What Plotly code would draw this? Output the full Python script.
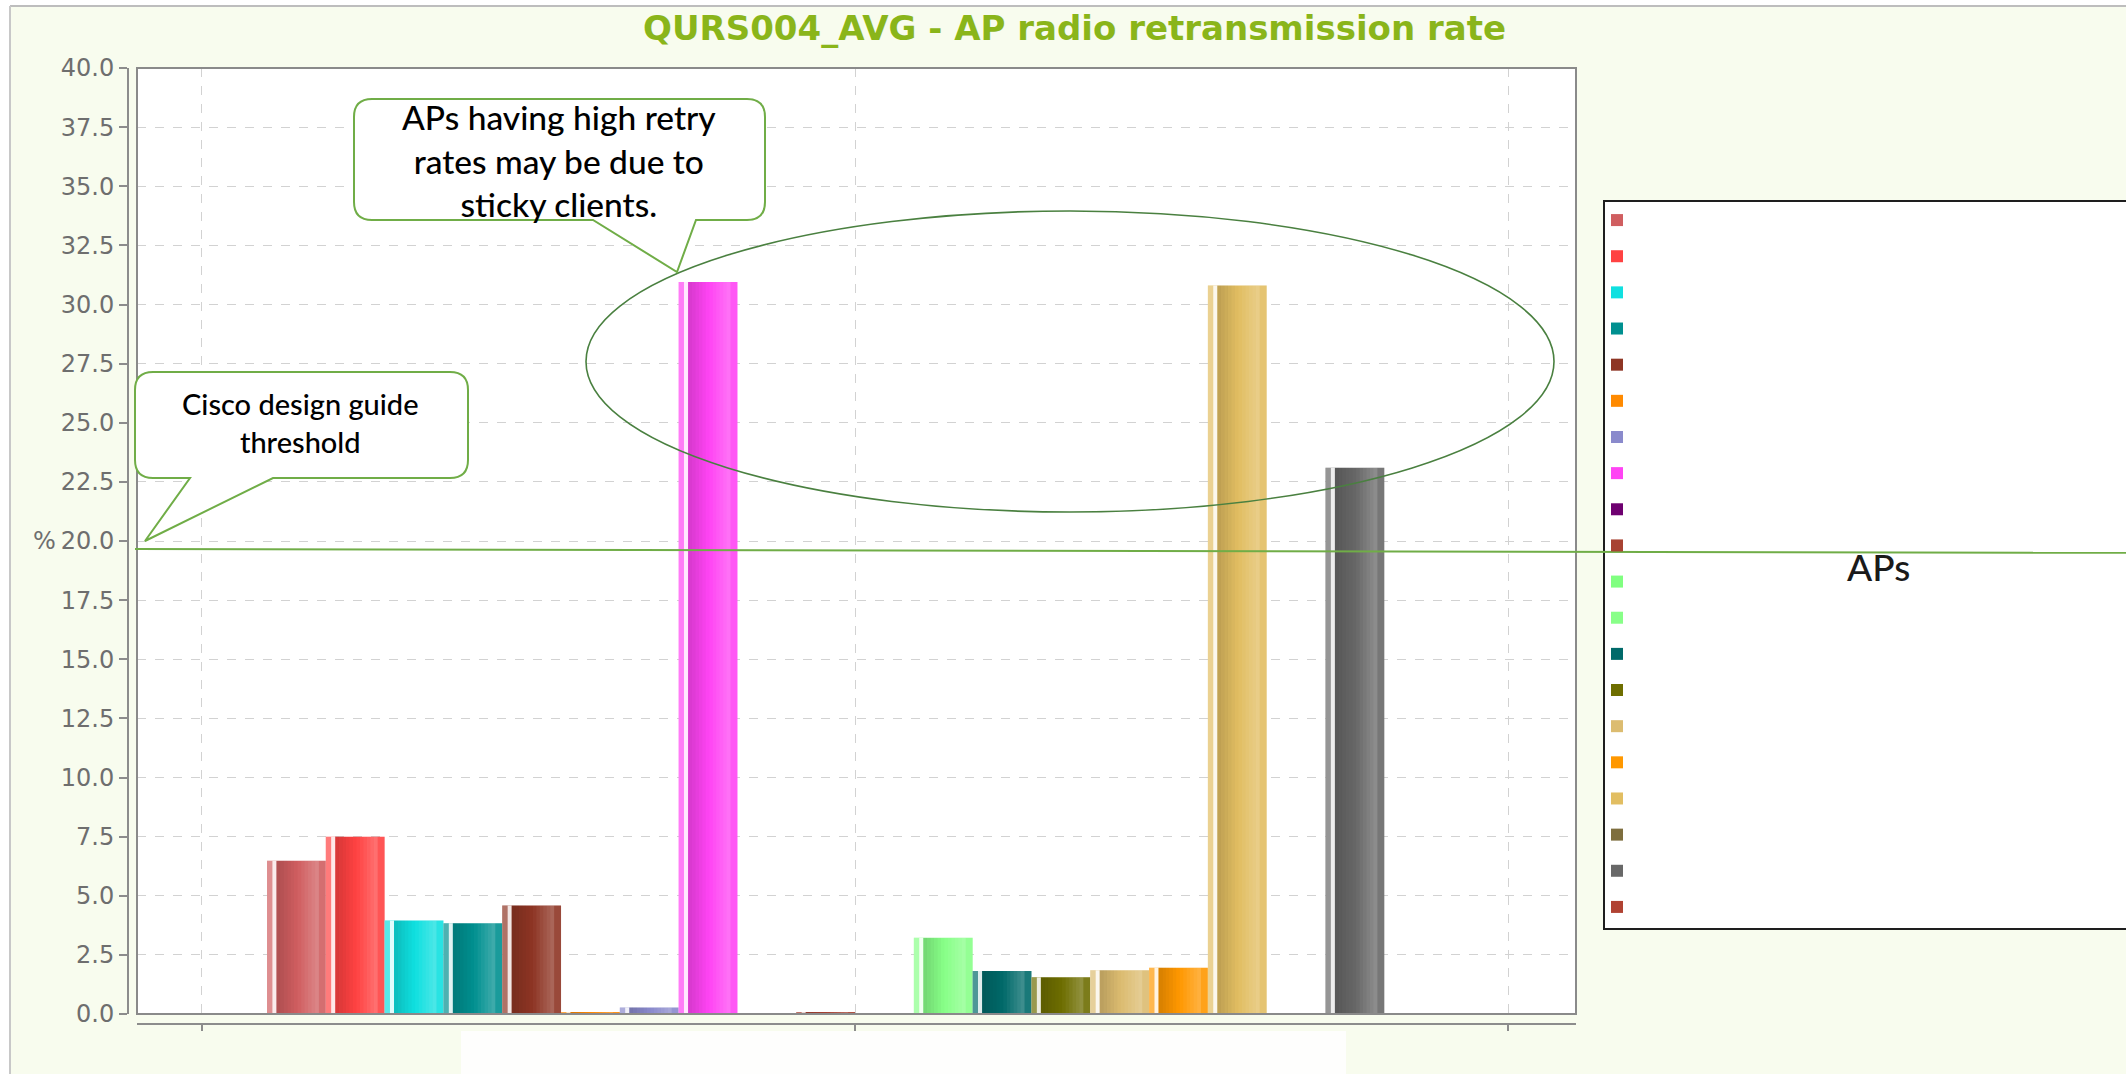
import plotly.graph_objects as go

W, H = 2126, 1074

# Average radio retransmission rate (%) per access point, in legend order
ap_colors = [
    "#d05e60", "#ff4242", "#10e0e0", "#009090", "#8e3524",
    "#ff8a00", "#8a8acc", "#ff44f4", "#6e0070", "#a84232",
    "#80ff80", "#88ff88", "#006a6a", "#6e6e00", "#dcbc70",
    "#ff9800", "#e2be62", "#7e6e3e", "#686868", "#b04232",
]
retry_pct = [
    6.48, 7.50, 3.95, 3.84, 4.59,
    0.08, 0.28, 30.95, 0.00, 0.08,
    0.00, 3.22, 1.82, 1.55, 1.85,
    1.96, 30.80, 0.00, 23.10, 0.00,
]
ap_slot = list(range(len(retry_pct)))

y_tick_vals = [0, 2.5, 5, 7.5, 10, 12.5, 15, 17.5, 20, 22.5, 25, 27.5, 30, 32.5, 35, 37.5, 40]
y_tick_text = ["0.0", "2.5", "5.0", "7.5", "10.0", "12.5", "15.0", "17.5", "20.0",
               "22.5", "25.0", "27.5", "30.0", "32.5", "35.0", "37.5", "40.0"]

CREAM = "#f8fcee"
CALLOUT = "#70ad47"


def fx(px):
    return px / W


def fy(py):
    return 1 - py / H


fig = go.Figure()

for i, (val, col) in enumerate(zip(retry_pct, ap_colors)):
    fig.add_trace(go.Bar(
        x=[ap_slot[i]], y=[val], width=[1.0],
        marker=dict(color=col, line=dict(width=0)),
        name=" ", showlegend=True,
        hovertemplate="%{y:.2f} %<extra></extra>",
    ))


def sheen(offset, width, color):
    """Overlay band across every bar to give the painted-gradient look."""
    fig.add_trace(go.Bar(
        x=ap_slot, y=retry_pct, width=width, offset=offset,
        marker=dict(color=color, line=dict(width=0)),
        showlegend=False, hoverinfo="skip",
    ))


# light sliver, white highlight line, then a dark-to-light body gradient
sheen(-0.5, 0.09, "rgba(255,255,255,0.30)")
sheen(-0.41, 0.07, "rgba(255,255,255,0.88)")
body_start, body_end, n_steps = 0.16, 0.88, 12
step = (body_end - body_start) / n_steps
for k in range(n_steps):
    t = (k + 0.5) / n_steps
    if t < 0.5:
        band = f"rgba(0,0,0,{0.16 * (1 - 2 * t):.3f})"
    else:
        band = f"rgba(255,255,255,{0.26 * (2 * t - 1):.3f})"
    sheen(-0.5 + body_start + k * step, step + 0.002, band)
sheen(-0.5 + body_end, 1 - body_end, "rgba(255,255,255,0.10)")


def rounded_callout(x0, y0, x1, y1, r, tail):
    """Rounded box with a pointer; tail = (base_right, tip_x, tip_y, base_left) on the bottom edge."""
    br, tx, ty, bl = tail
    pts = [
        f"M{fx(x0 + r)},{fy(y0)}",
        f"L{fx(x1 - r)},{fy(y0)}",
        f"Q{fx(x1)},{fy(y0)} {fx(x1)},{fy(y0 + r)}",
        f"L{fx(x1)},{fy(y1 - r)}",
        f"Q{fx(x1)},{fy(y1)} {fx(x1 - r)},{fy(y1)}",
        f"L{fx(br)},{fy(y1)}",
        f"L{fx(tx)},{fy(ty)}",
        f"L{fx(bl)},{fy(y1)}",
        f"L{fx(x0 + r)},{fy(y1)}",
        f"Q{fx(x0)},{fy(y1)} {fx(x0)},{fy(y1 - r)}",
        f"L{fx(x0)},{fy(y0 + r)}",
        f"Q{fx(x0)},{fy(y0)} {fx(x0 + r)},{fy(y0)}",
        "Z",
    ]
    return " ".join(pts)


shapes = [
    # page edge
    dict(type="rect", xref="paper", yref="paper", x0=0, x1=fx(10), y0=0, y1=1,
         fillcolor="white", line=dict(width=0), layer="below"),
    dict(type="rect", xref="paper", yref="paper", x0=0, x1=1, y0=fy(6), y1=1,
         fillcolor="white", line=dict(width=0), layer="below"),
    dict(type="line", xref="paper", yref="paper", x0=fx(10), x1=1, y0=fy(6), y1=fy(6),
         line=dict(color="#bdbdbd", width=2)),
    dict(type="line", xref="paper", yref="paper", x0=fx(10), x1=fx(10), y0=0, y1=fy(6),
         line=dict(color="#c8c8c8", width=2)),
    # pale band under the category axis
    dict(type="rect", xref="paper", yref="paper", x0=fx(461), x1=fx(1346), y0=0, y1=fy(1031),
         fillcolor="#fefefd", line=dict(width=0), layer="below"),
    # plot frame
    dict(type="rect", xref="paper", yref="paper", x0=fx(137), x1=fx(1576), y0=fy(1014), y1=fy(68),
         line=dict(color="#8a8a8a", width=2), layer="above"),
    # legend panel
    dict(type="rect", xref="paper", yref="paper", x0=fx(1604), x1=fx(2140), y0=fy(929), y1=fy(201),
         fillcolor="white", line=dict(color="#1e1e1e", width=2), layer="below"),
    # design-guide threshold
    dict(type="line", xref="paper", yref="y", x0=fx(135), x1=1, y0=19.66, y1=19.5,
         line=dict(color=CALLOUT, width=2)),
    # highlight ring around the high-retry APs
    dict(type="circle", xref="paper", yref="paper", x0=fx(586), x1=fx(1554), y0=fy(512), y1=fy(211),
         line=dict(color="#4a8040", width=1.6)),
    # callouts
    dict(type="path", xref="paper", yref="paper",
         path=rounded_callout(354, 99, 765, 220, 18, (696, 677, 272, 593)),
         fillcolor="white", line=dict(color=CALLOUT, width=2)),
    dict(type="path", xref="paper", yref="paper",
         path=rounded_callout(135, 372, 468, 478, 18, (273, 145, 541, 190)),
         fillcolor="white", line=dict(color=CALLOUT, width=2)),
]

annotations = [
    dict(text="QURS004_AVG - AP radio retransmission rate", xref="paper", yref="paper",
         x=fx(1074), y=fy(28), xanchor="center", yanchor="middle", showarrow=False,
         font=dict(family="DejaVu Sans", size=34, color="#8ab51a", weight="bold")),
    dict(text="%", xref="paper", yref="paper", x=fx(44), y=fy(541), xanchor="center",
         yanchor="middle", showarrow=False,
         font=dict(family="DejaVu Sans", size=24, color="#6e6e6e")),
    dict(text="APs having high retry<br>rates may be due to<br>sticky clients.",
         xref="paper", yref="paper", x=fx(559), y=fy(160), xanchor="center", yanchor="middle",
         showarrow=False, align="center",
         font=dict(family="Lato", size=33.5, color="black", weight=500)),
    dict(text="Cisco design guide<br>threshold", xref="paper", yref="paper",
         x=fx(300), y=fy(423), xanchor="center", yanchor="middle", showarrow=False,
         align="center", font=dict(family="Lato", size=29, color="black", weight=500)),
    dict(text="APs", xref="paper", yref="paper", x=fx(1878), y=fy(566), xanchor="center",
         yanchor="middle", showarrow=False,
         font=dict(family="Lato", size=37, color="#1a1a1a", weight=500)),
]

fig.update_layout(
    width=W, height=H,
    margin=dict(l=0, r=0, t=0, b=0),
    paper_bgcolor=CREAM, plot_bgcolor="white",
    barmode="overlay",
    showlegend=True,
    legend=dict(x=fx(1597), y=fy(197), xanchor="left", yanchor="top",
                bgcolor="rgba(0,0,0,0)", borderwidth=0, traceorder="normal",
                font=dict(size=25.5, family="DejaVu Sans"), tracegroupgap=0,
                itemclick=False, itemdoubleclick=False),
    xaxis=dict(domain=[fx(137), fx(1576)], range=[-2.711, 21.76], anchor="free",
               position=fy(1024), showline=True, linecolor="#8c8c8c", linewidth=2,
               ticks="outside", ticklen=6, tickwidth=2, tickcolor="#8c8c8c",
               tickvals=[-1.61, 9.5, 20.61], showticklabels=False,
               showgrid=True, gridcolor="#d2d2d2", griddash="dash", gridwidth=1,
               zeroline=False, fixedrange=True, automargin=False),
    yaxis=dict(domain=[fy(1014), fy(68)], range=[0, 40], anchor="free",
               position=fx(128), showline=True, linecolor="#8c8c8c", linewidth=2,
               ticks="outside", ticklen=8, tickwidth=1.5, tickcolor="#8c8c8c",
               tickvals=y_tick_vals, ticktext=y_tick_text,
               tickfont=dict(family="DejaVu Sans", size=24, color="#6e6e6e"),
               showgrid=True, gridcolor="#d2d2d2", griddash="dash", gridwidth=1,
               zeroline=False, fixedrange=True, automargin=False),
    shapes=shapes,
    annotations=annotations,
)

fig.write_html("out.html")
